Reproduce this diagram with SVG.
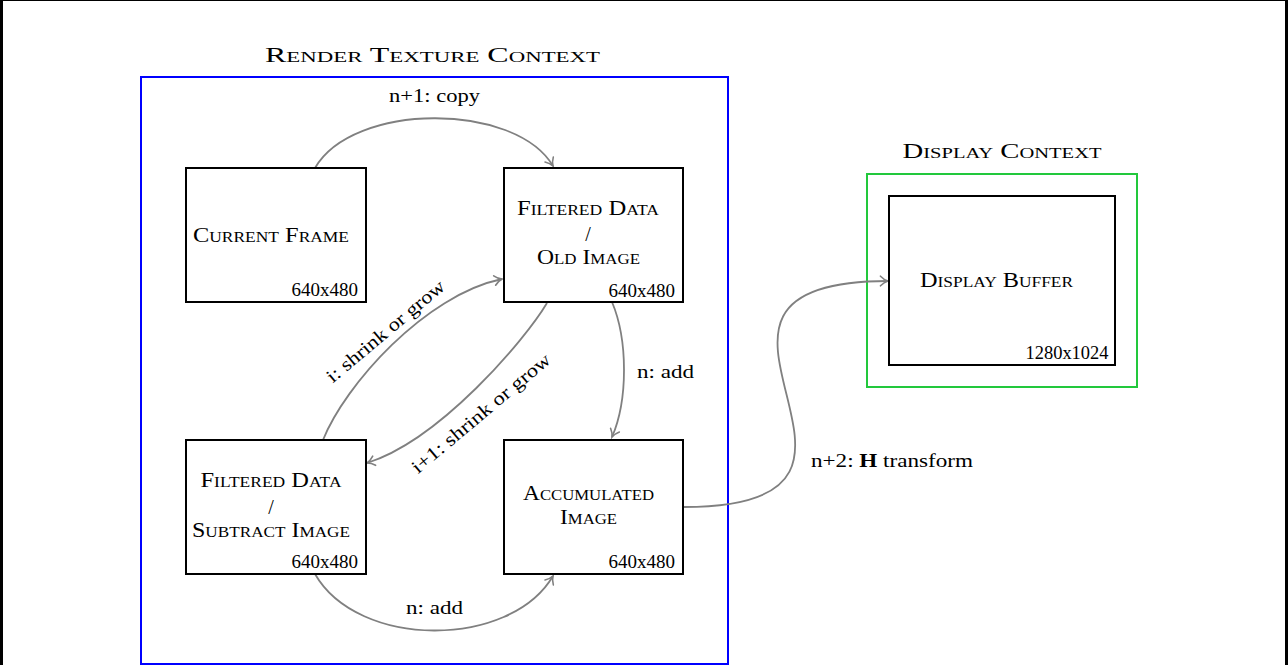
<svg xmlns="http://www.w3.org/2000/svg" width="1288" height="665" viewBox="0 0 1288 665">
  <style>
    .sc { font-family: "Liberation Serif", "Times New Roman", serif; font-size: 21px; font-variant: small-caps; fill: #000; text-anchor: middle; }
    .lbl { font-family: "Liberation Serif", "Times New Roman", serif; font-size: 19px; fill: #000; text-anchor: middle; }
    .sep { font-family: "Liberation Serif", "Times New Roman", serif; font-size: 20px; fill: #000; text-anchor: middle; }
    .dim { font-family: "Liberation Serif", "Times New Roman", serif; font-size: 19px; fill: #000; text-anchor: end; }
    .box { fill: #fff; stroke: #000; stroke-width: 2; }
    .edge { fill: none; stroke: #808080; stroke-width: 1.8; marker-end: url(#tip); }
  </style>
  <defs>
    <marker id="tip" markerUnits="userSpaceOnUse" viewBox="-9 -6 11 12" markerWidth="11" markerHeight="12" refX="0" refY="0" orient="auto">
      <path d="M-7.5,-4.8 C-5,-2.2 -2,-0.6 0,0 C-2,0.6 -5,2.2 -7.5,4.8" fill="none" stroke="#808080" stroke-width="1.6" stroke-linecap="round"/>
    </marker>
  </defs>

  <rect width="1288" height="665" fill="#fff"/>
  <!-- page frame -->
  <g id="frame" fill="#000">
    <rect x="0" y="0" width="3" height="665"/>
    <rect x="0" y="0" width="1288" height="1"/>
    <rect x="1285" y="0" width="3" height="665"/>
  </g>

  <!-- contexts -->
  <g id="render-context">
    <rect x="141" y="77" width="587" height="587" fill="none" stroke="#0000ff" stroke-width="2"/>
    <text class="sc" x="432.5" y="61.5" textLength="335" lengthAdjust="spacingAndGlyphs">Render Texture Context</text>
  </g>
  <g id="display-context">
    <rect x="867" y="174" width="270" height="213" fill="none" stroke="#22c83c" stroke-width="2"/>
    <text class="sc" x="1002" y="158" textLength="199" lengthAdjust="spacingAndGlyphs">Display Context</text>
  </g>

  <!-- connectors -->
  <g id="connectors">
    <path class="edge" d="M315,168 C353,102 515,102 553,166"/>
    <path class="edge" d="M612,302 C628,340 628,400 612,437"/>
    <path class="edge" d="M323,440 C345,385 425,295 502,279"/>
    <path class="edge" d="M547,303 C525,340 440,440 367,463"/>
    <path class="edge" d="M315,574 C358,649 510,649 553,576"/>
    <path class="edge" d="M684,507 C945,507 628,281 888,281"/>
    <text class="lbl" x="434.5" y="101.5" textLength="91" lengthAdjust="spacingAndGlyphs">n+1: copy</text>
    <text class="lbl" x="665.5" y="377.5" textLength="57" lengthAdjust="spacingAndGlyphs">n: add</text>
    <text class="lbl" x="434.5" y="613.5" textLength="57" lengthAdjust="spacingAndGlyphs">n: add</text>
    <text class="lbl" x="892" y="466.5" textLength="162" lengthAdjust="spacingAndGlyphs">n+2: <tspan font-weight="bold">H</tspan> transform</text>
    <text class="lbl" transform="translate(389.5,336) rotate(-40)" textLength="148" lengthAdjust="spacingAndGlyphs">i: shrink or grow</text>
    <text class="lbl" transform="translate(485,418) rotate(-40)" textLength="175" lengthAdjust="spacingAndGlyphs">i+1: shrink or grow</text>
  </g>

  <!-- nodes -->
  <g id="current-frame">
    <rect class="box" x="186" y="168" width="180" height="134"/>
    <text class="sc" x="271" y="241.5" textLength="156" lengthAdjust="spacingAndGlyphs">Current Frame</text>
    <text class="dim" x="358" y="296">640x480</text>
  </g>
  <g id="old-image">
    <rect class="box" x="504" y="168" width="179" height="134"/>
    <text class="sc" x="588" y="215" textLength="142" lengthAdjust="spacingAndGlyphs">Filtered Data</text>
    <text class="sep" x="588" y="240.5">/</text>
    <text class="sc" x="588.5" y="263.5" textLength="103" lengthAdjust="spacingAndGlyphs">Old Image</text>
    <text class="dim" x="675" y="296.5">640x480</text>
  </g>
  <g id="subtract-image">
    <rect class="box" x="186" y="440" width="180" height="134"/>
    <text class="sc" x="271" y="487" textLength="141" lengthAdjust="spacingAndGlyphs">Filtered Data</text>
    <text class="sep" x="271" y="513.5">/</text>
    <text class="sc" x="271" y="537" textLength="158" lengthAdjust="spacingAndGlyphs">Subtract Image</text>
    <text class="dim" x="358" y="567.5">640x480</text>
  </g>
  <g id="accumulated-image">
    <rect class="box" x="504" y="440" width="179" height="134"/>
    <text class="sc" x="588.5" y="500" textLength="131" lengthAdjust="spacingAndGlyphs">Accumulated</text>
    <text class="sc" x="588.5" y="524" textLength="57" lengthAdjust="spacingAndGlyphs">Image</text>
    <text class="dim" x="675" y="567.5">640x480</text>
  </g>
  <g id="display-buffer">
    <rect class="box" x="889" y="196" width="226" height="169"/>
    <text class="sc" x="996.5" y="286.5" textLength="153" lengthAdjust="spacingAndGlyphs">Display Buffer</text>
    <text class="dim" x="1108.5" y="359" textLength="83" lengthAdjust="spacingAndGlyphs">1280x1024</text>
  </g>
</svg>
